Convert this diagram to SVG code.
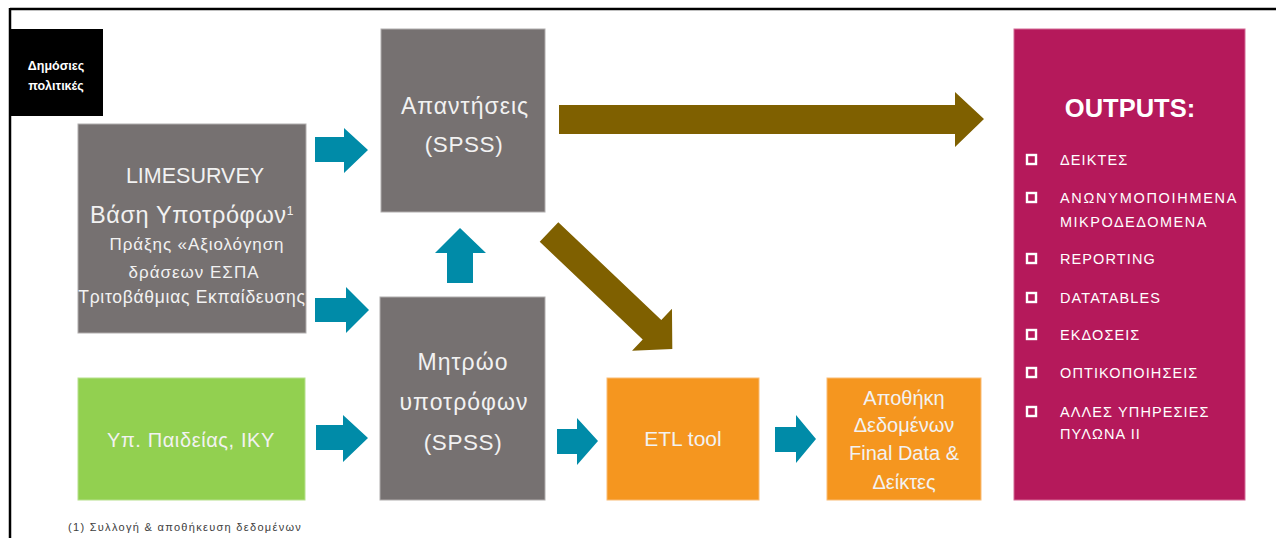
<svg xmlns="http://www.w3.org/2000/svg" width="1276" height="538" viewBox="0 0 1276 538">
<style>
text{font-family:"Liberation Sans","Noto Sans",Arial,sans-serif}
.gray{fill:#767171;stroke:#b0adad;stroke-width:1}
.wt{fill:#F2F2F2;text-anchor:middle}
.teal{fill:#008BA8}
.brown{fill:#7F6000}
.out{fill:#FFFFFF;font-size:14.5px;letter-spacing:1.1px}
.cb{fill:none;stroke:#FFFFFF;stroke-width:2.4}
</style>
<rect x="0" y="0" width="1276" height="538" fill="#FFFFFF"/>
<g id="frame">
<line x1="10" y1="9" x2="1276" y2="9" stroke="#000" stroke-width="2.5"/>
<line x1="10" y1="8" x2="10" y2="538" stroke="#000" stroke-width="2.5"/>
</g>
<g id="node-policies">
<rect x="10" y="29" width="93" height="87" fill="#000"/>
<text x="56" y="70" fill="#fff" font-size="12.5" font-weight="bold" text-anchor="middle">Δημόσιες</text>
<text x="56" y="90" fill="#fff" font-size="12.5" font-weight="bold" text-anchor="middle">πολιτικές</text>
</g>
<g id="node-limesurvey">
<rect class="gray" x="78" y="124" width="228" height="209"/>
<text class="wt" x="195" y="183" font-size="21.5">LIMESURVEY</text>
<text class="wt" x="192" y="223" font-size="23.5" letter-spacing="0.6">Βάση Υποτρόφων<tspan font-size="12" dy="-8">1</tspan></text>
<text class="wt" x="197" y="250" font-size="17" letter-spacing="0.9">Πράξης «Αξιολόγηση</text>
<text class="wt" x="194" y="278" font-size="17" letter-spacing="1">δράσεων ΕΣΠΑ</text>
<text class="wt" x="192" y="303" font-size="17.5" letter-spacing="0.7">Τριτοβάθμιας Εκπαίδευσης</text>
</g>
<g id="node-ministry">
<rect x="78" y="378" width="227" height="122" fill="#92D050" stroke="#b6e08c" stroke-width="1"/>
<text class="wt" x="191" y="447" font-size="20" letter-spacing="0.6" fill="#fff">Υπ. Παιδείας, ΙΚΥ</text>
</g>
<g id="node-answers">
<rect class="gray" x="381" y="29" width="164" height="183"/>
<text class="wt" x="465" y="114" font-size="23" letter-spacing="1">Απαντήσεις</text>
<text class="wt" x="464" y="152" font-size="22.5" letter-spacing="0.6">(SPSS)</text>
</g>
<g id="node-registry">
<rect class="gray" x="380" y="297" width="165" height="203"/>
<text class="wt" x="463" y="370" font-size="23" letter-spacing="1">Μητρώο</text>
<text class="wt" x="464" y="410" font-size="23" letter-spacing="1">υποτρόφων</text>
<text class="wt" x="463" y="450" font-size="22.5" letter-spacing="0.6">(SPSS)</text>
</g>
<g id="node-etl">
<rect x="607" y="378" width="152" height="122" fill="#F5961F" stroke="#f9bb74" stroke-width="1"/>
<text class="wt" x="683" y="446" font-size="21" fill="#fff">ETL tool</text>
</g>
<g id="node-warehouse">
<rect x="827" y="378" width="154" height="122" fill="#F5961F" stroke="#f9bb74" stroke-width="1"/>
<text class="wt" x="904" y="405" font-size="20" fill="#fff">Αποθήκη</text>
<text class="wt" x="904" y="432" font-size="20" fill="#fff">Δεδομένων</text>
<text class="wt" x="904" y="460" font-size="20" fill="#fff">Final Data &amp;</text>
<text class="wt" x="904" y="489" font-size="20" fill="#fff">Δείκτες</text>
</g>
<g id="node-outputs">
<rect x="1014" y="29" width="231" height="471" fill="#B5195B" stroke="#d46a96" stroke-width="1"/>
<text x="1130" y="117" fill="#fff" font-size="25.5" font-weight="bold" text-anchor="middle">OUTPUTS:</text>
<rect class="cb" x="1027" y="155" width="9" height="9"/>
<text class="out" x="1060" y="165">ΔΕΙΚΤΕΣ</text>
<rect class="cb" x="1027" y="193" width="9" height="9"/>
<text class="out" x="1060" y="203" style="letter-spacing:1.7px">ΑΝΩΝΥΜΟΠΟΙΗΜΕΝΑ</text>
<text class="out" x="1060" y="227" style="letter-spacing:1.5px">ΜΙΚΡΟΔΕΔΟΜΕΝΑ</text>
<rect class="cb" x="1027" y="254" width="9" height="9"/>
<text class="out" x="1060" y="264">REPORTING</text>
<rect class="cb" x="1027" y="293" width="9" height="9"/>
<text class="out" x="1060" y="303">DATATABLES</text>
<rect class="cb" x="1027" y="330" width="9" height="9"/>
<text class="out" x="1060" y="340">ΕΚΔΟΣΕΙΣ</text>
<rect class="cb" x="1027" y="368" width="9" height="9"/>
<text class="out" x="1060" y="378">ΟΠΤΙΚΟΠΟΙΗΣΕΙΣ</text>
<rect class="cb" x="1027" y="407" width="9" height="9"/>
<text class="out" x="1060" y="417">ΑΛΛΕΣ ΥΠΗΡΕΣΙΕΣ</text>
<text class="out" x="1060" y="439">ΠΥΛΩΝΑ ΙΙ</text>
</g>
<g id="footnote">
<text x="68" y="531" fill="#404040" font-size="11" letter-spacing="1.3">(1)  Συλλογή &amp; αποθήκευση δεδομένων</text>
</g>
<g id="connectors">
<polygon class="teal" points="315,137 344,137 344,128 368,150 344,173 344,162 315,162"/>
<polygon class="teal" points="315,298 346,298 346,287 369,310 346,333 346,322 315,322"/>
<polygon class="teal" points="447,283 447,253 435,253 460,228 486,253 473,253 473,283"/>
<polygon class="teal" points="316,425 343,425 343,415 368,438 343,462 343,450 316,450"/>
<polygon class="teal" points="557,429 577,429 577,418 598,441 577,465 577,454 557,454"/>
<polygon class="teal" points="775,427 796,427 796,415 816,439 796,463 796,452 775,452"/>
<polygon class="brown" points="559,105 955,105 955,92 984,119 955,147 955,134 559,134"/>
<polygon class="brown" transform="translate(549,232) rotate(43.5)" points="0,-13.5 142,-13.5 142,-29 170,0 142,29 142,13.5 0,13.5"/>
</g>
</svg>
